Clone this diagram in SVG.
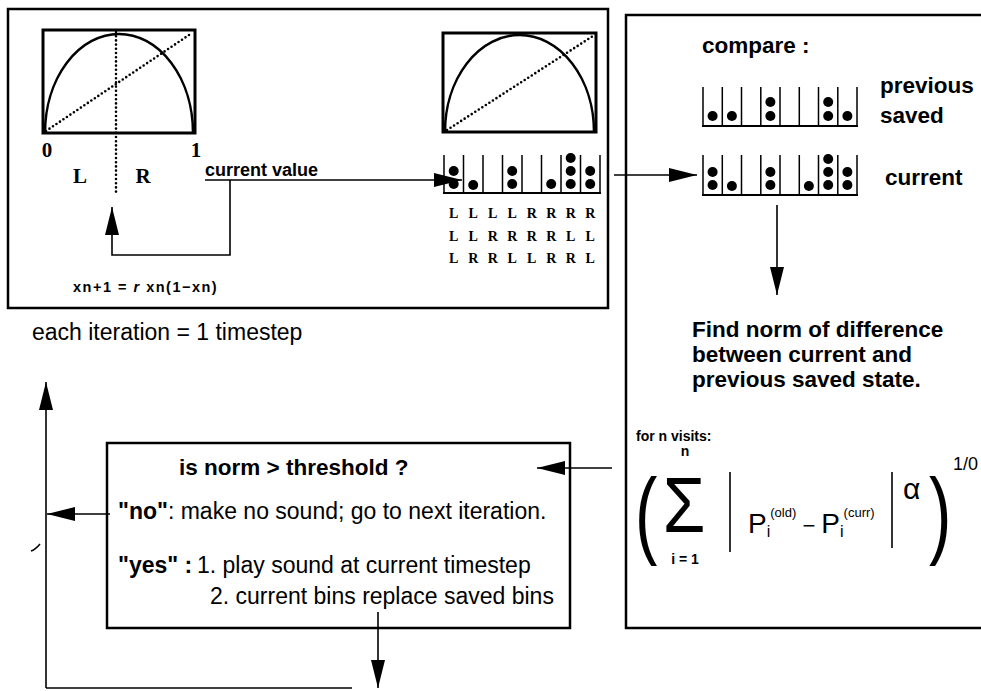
<svg xmlns="http://www.w3.org/2000/svg" width="981" height="691" viewBox="0 0 981 691">
<defs>
<marker id="ah" viewBox="0 0 28 14" refX="28" refY="7" markerWidth="28" markerHeight="14" markerUnits="userSpaceOnUse" orient="auto">
<path d="M0,0 L28,7 L0,14 Z" fill="#000"/>
</marker>
<style>
.box{fill:none;stroke:#000;stroke-width:2.5}
.plot{fill:none;stroke:#000;stroke-width:3}
.curve{fill:none;stroke:#000;stroke-width:2.5}
.dot{fill:none;stroke:#000;stroke-width:2.6;stroke-linecap:round;stroke-dasharray:0 4.2}
.bin{fill:none;stroke:#000;stroke-width:1.5}
.binb{fill:none;stroke:#000;stroke-width:2}
.ball{fill:#000}
.conn{fill:none;stroke:#000;stroke-width:1.6}
.sans{font-family:"Liberation Sans",Arial,sans-serif;fill:#000}
.b{font-weight:bold}
.serif{font-family:"Liberation Serif","Times New Roman",serif;font-weight:bold;fill:#000}
</style>
</defs>
<rect width="981" height="691" fill="#fff"/>

<g id="logistic-map">
<rect class="box" x="8" y="9" width="600" height="299"/>
<rect class="plot" x="43" y="30" width="152" height="103"/>
<path class="curve" d="M45,133 A74,99 0 0 1 193,133"/>
<line class="dot" x1="46" y1="131" x2="192" y2="33"/>
<line class="dot" x1="116" y1="32" x2="116" y2="193"/>
<text class="serif" x="47" y="157" font-size="21" text-anchor="middle">0</text>
<text class="serif" x="196" y="157" font-size="21" text-anchor="middle">1</text>
<text class="serif" x="80" y="183" font-size="21" text-anchor="middle">L</text>
<text class="serif" x="143" y="183" font-size="21" text-anchor="middle">R</text>
<text class="sans b" x="205" y="176" font-size="18">current value</text>
<text class="sans b" x="73" y="292" font-size="14.5" letter-spacing="1.5">xn+1 = <tspan font-style="italic">r</tspan> xn(1−xn)</text>
</g>

<g id="current-bins">
<rect class="plot" x="443" y="33" width="153" height="99"/>
<path class="curve" d="M445,132 A74.5,97 0 0 1 594,132"/>
<line class="dot" x1="447" y1="130" x2="593" y2="36"/>
<path class="bin" d="M444,155V193M463.5,155V193M483,155V193M502.5,155V193M522,155V193M541.5,155V193M561,155V193M580.5,155V193M600,155V193"/>
<line class="binb" x1="443" y1="193" x2="601" y2="193"/>
<g class="ball">
<circle cx="453.7" cy="184" r="5"/><circle cx="453.7" cy="171" r="5"/>
<circle cx="473.2" cy="185" r="5"/>
<circle cx="512.2" cy="184" r="5"/><circle cx="512.2" cy="171" r="5"/>
<circle cx="551.2" cy="184" r="5"/>
<circle cx="570.7" cy="184" r="5"/><circle cx="570.7" cy="171" r="5"/><circle cx="570.7" cy="158" r="5"/>
<circle cx="590.2" cy="184" r="5"/><circle cx="590.2" cy="171" r="5"/>
</g>
<g class="serif" font-size="14" text-anchor="middle">
<text y="218"><tspan x="453.7">L</tspan><tspan x="473.2">L</tspan><tspan x="492.7">L</tspan><tspan x="512.2">L</tspan><tspan x="531.7">R</tspan><tspan x="551.2">R</tspan><tspan x="570.7">R</tspan><tspan x="590.2">R</tspan></text>
<text y="241"><tspan x="453.7">L</tspan><tspan x="473.2">L</tspan><tspan x="492.7">R</tspan><tspan x="512.2">R</tspan><tspan x="531.7">R</tspan><tspan x="551.2">R</tspan><tspan x="570.7">L</tspan><tspan x="590.2">L</tspan></text>
<text y="263"><tspan x="453.7">L</tspan><tspan x="473.2">R</tspan><tspan x="492.7">R</tspan><tspan x="512.2">L</tspan><tspan x="531.7">L</tspan><tspan x="551.2">R</tspan><tspan x="570.7">R</tspan><tspan x="590.2">L</tspan></text>
</g>
</g>

<g id="each-iteration">
<text class="sans" x="32" y="340" font-size="23">each iteration = 1 timestep</text>
</g>

<g id="compare-panel">
<path class="box" d="M990,15H626V628H990"/>
<text class="sans b" x="702" y="53" font-size="22.5">compare :</text>
<path class="bin" d="M703,87V126M722.3,87V126M741.5,87V126M760.8,87V126M780,87V126M799.3,87V126M818.5,87V126M837.8,87V126M857,87V126"/>
<line class="binb" x1="702" y1="126" x2="858" y2="126"/>
<g class="ball">
<circle cx="712.6" cy="116" r="5"/>
<circle cx="731.9" cy="116" r="5"/>
<circle cx="770.4" cy="116" r="5"/><circle cx="770.4" cy="102" r="5"/>
<circle cx="828.2" cy="116" r="5"/><circle cx="828.2" cy="102" r="5"/>
<circle cx="847.4" cy="116" r="5"/>
</g>
<text class="sans b" x="880" y="93" font-size="22.5">previous</text>
<text class="sans b" x="880" y="123" font-size="22.5">saved</text>
<path class="bin" d="M703,155V195M722.3,155V195M741.5,155V195M760.8,155V195M780,155V195M799.3,155V195M818.5,155V195M837.8,155V195M857,155V195"/>
<line class="binb" x1="702" y1="195" x2="858" y2="195"/>
<g class="ball">
<circle cx="712.6" cy="185" r="5"/><circle cx="712.6" cy="172" r="5"/>
<circle cx="731.9" cy="186" r="5"/>
<circle cx="770.4" cy="185" r="5"/><circle cx="770.4" cy="172" r="5"/>
<circle cx="808.9" cy="186" r="5"/>
<circle cx="828.2" cy="185" r="5"/><circle cx="828.2" cy="172" r="5"/><circle cx="828.2" cy="159" r="5"/>
<circle cx="847.4" cy="185" r="5"/><circle cx="847.4" cy="172" r="5"/>
</g>
<text class="sans b" x="885" y="185" font-size="22.5">current</text>
<text class="sans b" font-size="22.5" x="692"><tspan y="337">Find norm of difference</tspan><tspan x="692" y="362">between current and</tspan><tspan x="692" y="387">previous saved state.</tspan></text>
<text class="sans b" x="636" y="441" font-size="14">for n visits:</text>
<text class="sans" font-size="96" transform="translate(635,546) scale(0.7,1)">(</text>
<text class="sans" font-size="60" text-anchor="middle" transform="translate(684,532) scale(1.15,1.3)">Σ</text>
<text class="sans b" x="685" y="456" font-size="14" text-anchor="middle">n</text>
<text class="sans b" x="685" y="564" font-size="14" text-anchor="middle">i = 1</text>
<line class="conn" x1="730" y1="472" x2="730" y2="552" stroke-width="2"/>
<text class="sans" x="748" y="533" font-size="28">P<tspan font-size="16" dy="4">i</tspan><tspan font-size="13" dy="-20">(old)</tspan><tspan font-size="22" dy="16"> − </tspan>P<tspan font-size="16" dy="4">i</tspan><tspan font-size="13" dy="-20">(curr)</tspan></text>
<line class="conn" x1="892" y1="472" x2="892" y2="548" stroke-width="2"/>
<text class="sans" x="903" y="499" font-size="30">α</text>
<text class="sans" font-size="96" transform="translate(929,546) scale(0.7,1)">)</text>
<text class="sans" x="953" y="470" font-size="18">1/0</text>
</g>

<g id="threshold-box">
<rect class="box" x="107" y="443" width="463" height="185"/>
<text class="sans b" x="179" y="475" font-size="22.5">is norm &gt; threshold ?</text>
<text class="sans" x="118" y="519" font-size="23"><tspan font-weight="bold">"no"</tspan>: make no sound; go to next iteration.</text>
<text class="sans" x="118" y="573" font-size="23"><tspan font-weight="bold">"yes" :</tspan><tspan x="197">1. play sound at current timestep</tspan></text>
<text class="sans" x="210" y="604" font-size="23">2. current bins replace saved bins</text>
</g>

<g id="connectors">
<path class="conn" d="M205,180H462" marker-end="url(#ah)"/>
<path class="conn" d="M230,180V255H112V207" marker-end="url(#ah)"/>
<path class="conn" d="M614,175H697" marker-end="url(#ah)"/>
<path class="conn" d="M777,205V295" marker-end="url(#ah)"/>
<path class="conn" d="M612,468H537" marker-end="url(#ah)"/>
<path class="conn" d="M110,514H47" marker-end="url(#ah)"/>
<path class="conn" d="M378,612V688" marker-end="url(#ah)"/>
<path class="conn" d="M46,688V382" marker-end="url(#ah)"/>
<path class="conn" d="M46,688H352" stroke="#555"/>
<path d="M31,551 q4,-1 9,-7" fill="none" stroke="#000" stroke-width="1.5"/>
</g>
</svg>
